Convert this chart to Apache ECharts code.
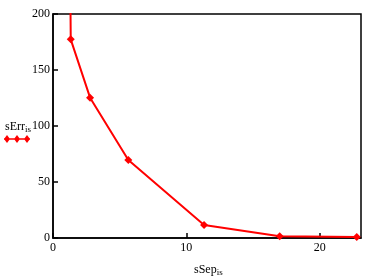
<!DOCTYPE html>
<html><head><meta charset="utf-8">
<script src="https://cdn.jsdelivr.net/npm/echarts@6/dist/echarts.min.js"></script>
<style>html,body{margin:0;padding:0;background:#fff}#c{width:376px;height:279px}</style>
</head><body><div id="c"></div>
<script>
const sSep = [0.67, 1.33, 2.78, 5.65, 11.33, 17.0, 22.78];
const sErr = [1200, 177.4, 125.3, 69.6, 11.6, 1.5, 1.0];
const xTicks = [0, 10, 20];
const yTicks = [0, 50, 100, 150, 200];

const chart = echarts.init(document.getElementById('c'));
const font = 'Liberation Serif';
chart.setOption({
  animation: false,
  grid: {left: 53, top: 14, right: 15, bottom: 41},
  xAxis: {
    type: 'value', min: 0, max: 23.1, interval: 10,
    axisLine: {onZero: false, lineStyle: {color: '#000', width: 1.5}},
    axisTick: {inside: true, length: 5, lineStyle: {color: '#000', width: 1.5}},
    axisLabel: {fontFamily: font, fontSize: 12, color: '#000', margin: 4, showMinLabel: true, showMaxLabel: false, hideOverlap: false},
    splitLine: {show: false}
  },
  yAxis: {
    type: 'value', min: 0, max: 200, interval: 50,
    axisLine: {onZero: false, lineStyle: {color: '#000', width: 1.5}},
    axisTick: {inside: true, length: 5, lineStyle: {color: '#000', width: 1.5}},
    axisLabel: {fontFamily: font, fontSize: 12, color: '#000', margin: 3, showMinLabel: true},
    splitLine: {show: false}
  },
  graphic: [
    {type: 'rect', shape: {x: 53, y: 14, width: 308, height: 224}, style: {fill: 'none', stroke: '#000', lineWidth: 1.5}, silent: true},
    {type: 'text', left: 5, top: 121, style: {text: '{a|sErr}{b|is}', rich: {a: {fontFamily: font, fontSize: 12, fill: '#000'}, b: {fontFamily: font, fontSize: 9, fill: '#000', padding: [5, 0, 0, 0]}}}},
    {type: 'text', left: 194, top: 264, style: {text: '{a|sSep}{b|is}', rich: {a: {fontFamily: font, fontSize: 12, fill: '#000'}, b: {fontFamily: font, fontSize: 9, fill: '#000', padding: [5, 0, 0, 0]}}}}
  ],
  legend: {
    left: 4, top: 135, itemWidth: 26, itemHeight: 8, itemGap: 0, padding: 0,
    formatter: () => '',
    data: [{name: 'sErr', icon: 'path://M0,3.2L26,3.2L26,4.8L0,4.8Z M0,4L3,0L6,4L3,8Z M10,4L13,0L16,4L13,8Z M20,4L23,0L26,4L23,8Z', itemStyle: {color: '#ff0000'}}]
  },
  series: [{
    name: 'sErr', type: 'line', clip: true,
    data: sSep.map((x, i) => [x, sErr[i]]),
    symbol: 'diamond', symbolSize: 8,
    lineStyle: {color: '#ff0000', width: 2},
    itemStyle: {color: '#ff0000'}
  }]
});
</script></body></html>
